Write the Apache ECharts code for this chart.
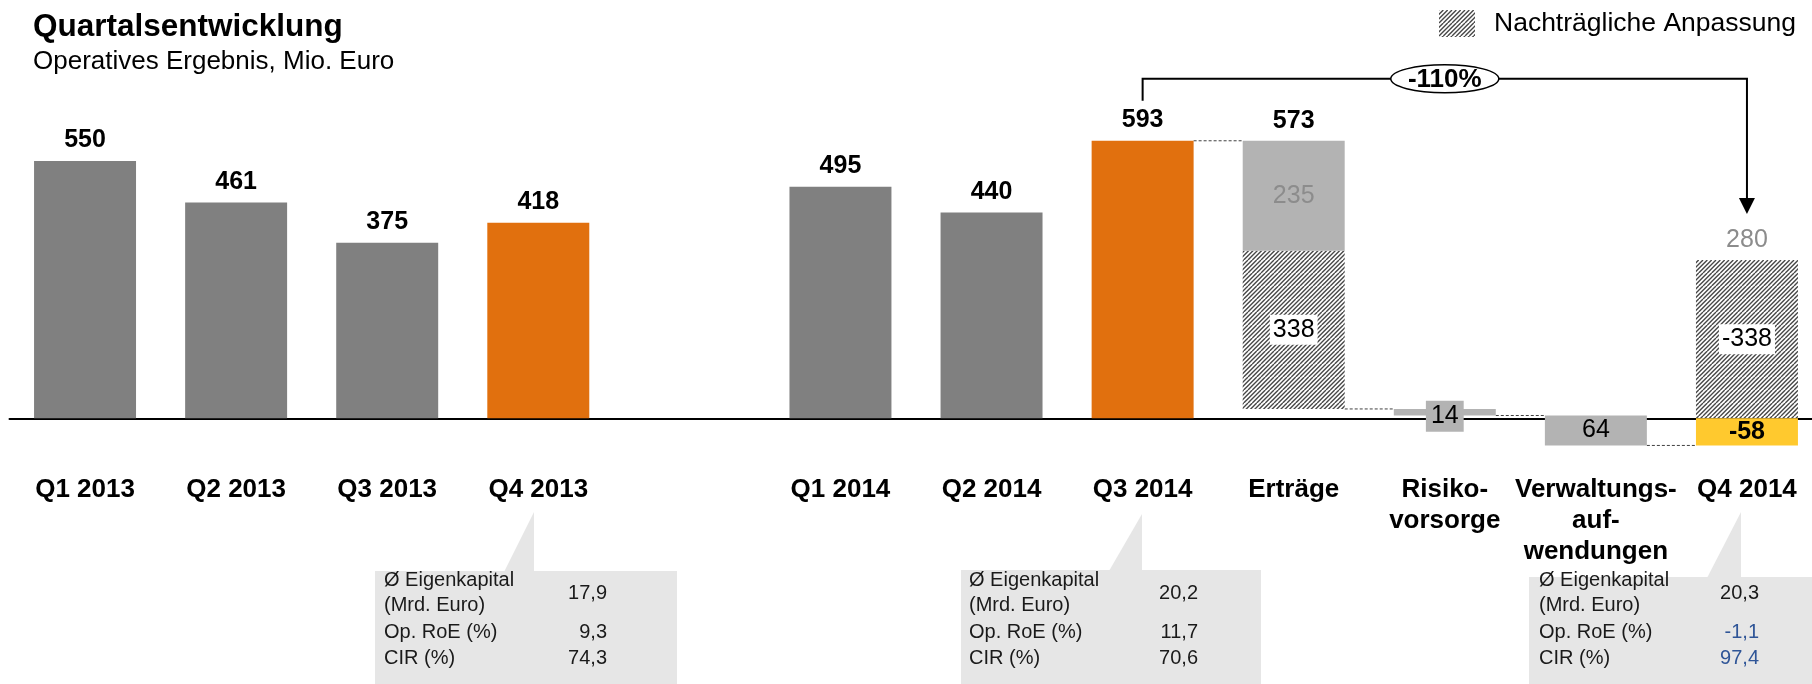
<!DOCTYPE html>
<html>
<head>
<meta charset="utf-8">
<script src="https://cdn.jsdelivr.net/npm/echarts@6/dist/echarts.min.js"></script>
<style>
html,body{margin:0;padding:0;background:#fff;}
#chart{width:1812px;height:684px;}
</style>
</head>
<body>
<div id="chart"></div>
<script>
// ---------- data ----------
const categories = ['Q1 2013', 'Q2 2013', 'Q3 2013', 'Q4 2013', '', 'Q1 2014', 'Q2 2014', 'Q3 2014',
  'Erträge', 'Risiko-\nvorsorge', 'Verwaltungs-\nauf-\nwendungen', 'Q4 2014'];
const quarterValues = [550, 461, 375, 418, null, 495, 440, 593, null, null, null, null];
const highlightQuarters = ['Q4 2013', 'Q3 2014'];
const startValue = 593;          // Q3 2014
const ertraegeChange = 573;      // Erträge (decrease)
const ertraegeAdjustment = 338;  // hatched part of Erträge
const risikoChange = 14;
const verwaltungChange = 64;
const q4Result = -58;
const q4Adjustment = -338;
const q4BeforeAdjustment = 280;
const changeLabel = '-110%';
const legendName = 'Nachträgliche Anpassung';
const tableRowLabels = ['Ø Eigenkapital', '(Mrd. Euro)', 'Op. RoE (%)', 'CIR (%)'];
const tableQ4_2013 = ['17,9', '9,3', '74,3'];
const tableQ3_2014 = ['20,2', '11,7', '70,6'];
const tableQ4_2014 = ['20,3', '-1,1', '97,4'];

// ---------- styles ----------
const FONT = '"Liberation Sans", Arial, Helvetica, sans-serif';
const DARK = '#808080', ORANGE = '#E1700E', LIGHT = '#B3B3B3', YELLOW = '#FFC92E';
const GRAYTEXT = '#8C8C8C', BLUE = '#2F5597', BOXBG = '#E6E6E6';
const BAR_RATIO = 0.675;

function makeHatch() {
  const S = 13, n = 3;
  const c = document.createElement('canvas');
  c.width = S; c.height = S;
  const g = c.getContext('2d');
  g.fillStyle = '#ffffff'; g.fillRect(0, 0, S, S);
  g.strokeStyle = '#484848'; g.lineWidth = 1.4;
  g.beginPath();
  for (let j = -1; j <= 2 * n + 1; j++) {
    const k = j * S / n;
    g.moveTo(k, 0); g.lineTo(k - S, S);
  }
  g.stroke();
  return c;
}
const hatch = { image: makeHatch(), repeat: 'repeat' };

// ---------- derived waterfall levels ----------
const ertraegeLow = startValue - ertraegeChange;
const ertraegeSplit = ertraegeLow + ertraegeAdjustment;
const risikoLow = ertraegeLow - risikoChange;
const verwLow = risikoLow - verwaltungChange;
const catIdx = name => categories.indexOf(name);

const segments = [
  { cat: 8, low: ertraegeSplit, high: startValue, fill: LIGHT, label: String(ertraegeChange - ertraegeAdjustment), kind: 'gray', top: String(ertraegeChange) },
  { cat: 9, low: risikoLow, high: ertraegeLow, fill: LIGHT, label: String(risikoChange), kind: 'box' },
  { cat: 10, low: verwLow, high: risikoLow, fill: LIGHT, label: String(verwaltungChange), kind: 'plain' },
  { cat: 11, low: q4Result, high: 0, fill: YELLOW, label: String(q4Result), kind: 'bold' }
];
const hatchedSegments = [
  { cat: 8, low: ertraegeLow, high: ertraegeSplit, label: String(ertraegeAdjustment) },
  { cat: 11, low: 0, high: -q4Adjustment, label: String(q4Adjustment), top: String(q4BeforeAdjustment) }
];
const connectors = [
  [7, 8, startValue], [8, 9, ertraegeLow], [9, 10, risikoLow], [10, 11, verwLow]
];

function rectFor(api, cat, low, high) {
  const bw = api.size([1, 0])[0] * BAR_RATIO;
  const t = api.coord([cat, high]);
  const b = api.coord([cat, low]);
  return { x: t[0] - bw / 2, y: t[1], width: bw, height: b[1] - t[1], cx: t[0], bw: bw };
}
function txt(x, y, text, font, fill, extra) {
  return {
    type: 'text', x: x, y: y,
    style: Object.assign({ text: text, font: font, fill: fill, align: 'center', verticalAlign: 'middle', textAlign: 'center', textVerticalAlign: 'middle' }, extra || {})
  };
}
const F_BOLD = 'bold 25px ' + FONT, F_REG = '25px ' + FONT;

const option = {
  animation: false,
  backgroundColor: '#ffffff',
  title: {
    text: 'Quartalsentwicklung', subtext: 'Operatives Ergebnis, Mio. Euro',
    left: 28, top: 6, itemGap: 6,
    textStyle: { fontFamily: FONT, fontSize: 31.5, fontWeight: 'bold', color: '#000' },
    subtextStyle: { fontFamily: FONT, fontSize: 26, color: '#000' }
  },
  legend: {
    left: 1434, top: 5, itemWidth: 36, itemHeight: 27, icon: 'rect',
    data: [legendName],
    textStyle: { fontFamily: FONT, fontSize: 26.5, color: '#000', padding: [0, 0, 0, 14] }
  },
  grid: { left: 9.5, top: 90.7, width: 1813, height: 374.4, containLabel: false, outerBoundsMode: 'none' },
  xAxis: {
    type: 'category', data: categories,
    axisTick: { show: false },
    axisLine: { onZero: true, lineStyle: { color: '#000', width: 2 } },
    axisLabel: { interval: 0, fontFamily: FONT, fontSize: 26, fontWeight: 'bold', color: '#000', lineHeight: 31, margin: 9 }
  },
  yAxis: { type: 'value', min: -100, max: 700, show: false, splitLine: { show: false } },
  series: [
    {
      type: 'bar', name: 'Operatives Ergebnis', barWidth: (BAR_RATIO * 100) + '%',
      data: quarterValues.map((v, i) => v == null ? '-' : {
        value: v, itemStyle: { color: highlightQuarters.indexOf(categories[i]) >= 0 ? ORANGE : DARK }
      }),
      label: { show: true, position: 'top', distance: 8, fontFamily: FONT, fontSize: 25, fontWeight: 'bold', color: '#000' }
    },
    {
      type: 'custom', name: 'Überleitung', clip: false, z: 3,
      data: segments.map(s => [s.cat, s.low, s.high]),
      encode: { x: 0, y: [1, 2] },
      renderItem: function (params, api) {
        const s = segments[params.dataIndex];
        const r = rectFor(api, s.cat, s.low, s.high);
        const children = [{ type: 'rect', shape: { x: r.x, y: r.y, width: r.width, height: r.height }, style: { fill: s.fill } }];
        const cy = r.y + r.height / 2;
        if (s.kind === 'gray') children.push(txt(r.cx, cy, s.label, F_REG, GRAYTEXT));
        if (s.kind === 'plain') children.push(txt(r.cx, cy, s.label, F_REG, '#000'));
        if (s.kind === 'bold') children.push(txt(r.cx, cy, s.label, F_BOLD, '#000'));
        if (s.kind === 'box') children.push(txt(r.cx, cy + 4, s.label, F_REG, '#000', { backgroundColor: LIGHT, padding: [3, 5, 3, 5] }));
        if (s.top) children.push(txt(r.cx, r.y - 20, s.top, F_BOLD, '#000'));
        return { type: 'group', children: children };
      }
    },
    {
      type: 'custom', name: legendName, clip: false, z: 2,
      itemStyle: { color: hatch },
      data: hatchedSegments.map(s => [s.cat, s.low, s.high]),
      encode: { x: 0, y: [1, 2] },
      renderItem: function (params, api) {
        const s = hatchedSegments[params.dataIndex];
        const r = rectFor(api, s.cat, s.low, s.high);
        const children = [{ type: 'rect', shape: { x: r.x, y: r.y, width: r.width, height: r.height }, style: { fill: hatch } }];
        children.push(txt(r.cx, r.y + r.height / 2, s.label, F_REG, '#000', { backgroundColor: '#fff', padding: [3, 3, 2, 3] }));
        if (s.top) children.push(txt(r.cx, r.y - 20, s.top, F_REG, GRAYTEXT));
        return { type: 'group', children: children };
      }
    },
    {
      type: 'custom', name: 'Verbindung', clip: false, z: 1, silent: true,
      data: connectors,
      encode: { x: [0, 1], y: 2 },
      renderItem: function (params, api) {
        const c = connectors[params.dataIndex];
        const bw = api.size([1, 0])[0] * BAR_RATIO;
        const a = api.coord([c[0], c[2]]), b = api.coord([c[1], c[2]]);
        return { type: 'line', shape: { x1: a[0] + bw / 2, y1: a[1], x2: b[0] - bw / 2, y2: b[1] },
          style: { stroke: '#404040', lineWidth: 1, lineDash: [3, 2] } };
      }
    },
    {
      type: 'custom', name: 'Veränderung', clip: false, z: 4, silent: true,
      data: [[catIdx('Q3 2014'), catIdx('Q4 2014'), startValue, -q4Adjustment]],
      encode: { x: [0, 1], y: [2, 3] },
      renderItem: function (params, api) {
        const d = [catIdx('Q3 2014'), catIdx('Q4 2014')];
        const a = api.coord([d[0], startValue]);
        const b = api.coord([d[1], -q4Adjustment]);
        const yTop = a[1] - 62, yLeftEnd = a[1] - 40, yTip = b[1] - 46;
        const mid = (a[0] + b[0]) / 2;
        const ln = { stroke: '#000', lineWidth: 2 };
        return { type: 'group', children: [
          { type: 'polyline', shape: { points: [[a[0], yLeftEnd], [a[0], yTop], [b[0], yTop], [b[0], yTip - 14]] }, style: Object.assign({ fill: null }, ln) },
          { type: 'polygon', shape: { points: [[b[0] - 8, yTip - 16], [b[0] + 8, yTip - 16], [b[0], yTip]] }, style: { fill: '#000' } },
          { type: 'ellipse', shape: { cx: mid, cy: yTop, rx: 54, ry: 14 }, style: { fill: '#fff', stroke: '#000', lineWidth: 1.5 } },
          txt(mid, yTop + 1, changeLabel, 'bold 26px ' + FONT, '#000')
        ] };
      }
    }
  ],
  graphic: []
};

// ---------- info boxes ----------
function infoBox(box, values, colors) {
  const els = [];
  els.push({ type: 'rect', shape: { x: box.left, y: box.top, width: box.right - box.left, height: 684 - box.top }, style: { fill: BOXBG } });
  els.push({ type: 'polygon', shape: { points: [[box.baseLeft, box.top + 1], [box.tipX, box.tipY], [box.tipX, box.top + 1]] }, style: { fill: BOXBG } });
  const ys = [580, 605, 632, 658];
  tableRowLabels.forEach((t, i) => els.push({ type: 'text', x: box.textLeft, y: ys[i],
    style: { text: t, font: '20px ' + FONT, fill: '#1a1a1a', align: 'left', verticalAlign: 'middle' } }));
  const vy = [593, 632, 658];
  values.forEach((v, i) => els.push({ type: 'text', x: box.valueRight, y: vy[i],
    style: { text: v, font: '20px ' + FONT, fill: colors[i], align: 'right', verticalAlign: 'middle' } }));
  return els;
}
option.graphic = [].concat(
  infoBox({ left: 375, top: 571, right: 677, baseLeft: 504, tipX: 534, tipY: 512, textLeft: 384, valueRight: 607 }, tableQ4_2013, ['#1a1a1a', '#1a1a1a', '#1a1a1a']),
  infoBox({ left: 961, top: 570, right: 1261, baseLeft: 1109, tipX: 1142, tipY: 514, textLeft: 969, valueRight: 1198 }, tableQ3_2014, ['#1a1a1a', '#1a1a1a', '#1a1a1a']),
  infoBox({ left: 1529, top: 577, right: 1812, baseLeft: 1707, tipX: 1741, tipY: 512, textLeft: 1539, valueRight: 1759 }, tableQ4_2014, ['#1a1a1a', BLUE, BLUE])
).map(e => Object.assign({ z: -10 }, e));

const chart = echarts.init(document.getElementById('chart'), null, { renderer: 'canvas' });
chart.setOption(option);
</script>
</body>
</html>
